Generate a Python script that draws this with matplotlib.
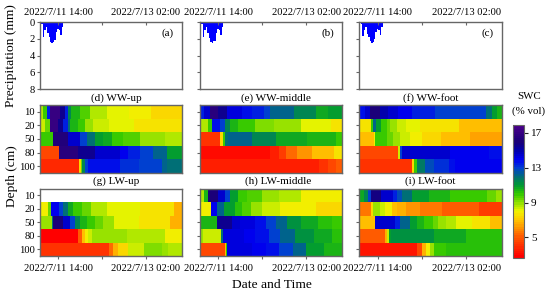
import numpy as np
import matplotlib
matplotlib.use('Agg')
import matplotlib.pyplot as plt
from matplotlib.colors import LinearSegmentedColormap, Normalize
from matplotlib.cm import ScalarMappable

plt.rcParams['font.family'] = ['Liberation Serif', 'DejaVu Serif']

W, H = 550, 296
T0, T1 = -7.6, 50.6  # hours relative to 2022/7/11 14:00
depths = [10, 20, 50, 80, 100]
tick_hours = [0, 18, 36]
time_labels = ['2022/7/11 14:00', '', '2022/7/13 02:00']

# rain, same event at each position
rain_hours = [-6.6, -6.0, -5.4, -4.8, -4.2, -3.6, -3.0, -2.4, -1.8, -1.2, -0.6, 0.0, 0.6, 1.2, 1.8, 2.4]
rain_a = [0.2, 1.8, 1.0, 0.6, 1.3, 1.8, 2.4, 2.5, 2.4, 2.1, 1.2, 0.8, 1.0, 1.5, 0.6, 0.1]
rain_b = [0.2, 1.8, 0.9, 0.6, 1.3, 1.9, 2.4, 2.5, 2.3, 2.2, 1.3, 0.8, 1.0, 1.5, 0.6, 0.1]
rain_c = [0.2, 1.7, 0.9, 0.6, 1.4, 1.8, 2.3, 2.5, 2.4, 2.0, 1.2, 0.8, 1.0, 1.5, 0.6, 0.1]

# each row: hour at which a run of constant SWC ends, and its SWC
ww_up_ends = [
    [-6, -4.6, -3.2, 1, 3, 4, 5.5, 9, 13, 20, 29, 38, 50.6],
    [-5.3, -3.5, 0, 2, 4, 5, 8, 11, 14.5, 21, 31, 50.6],
    [-2, 4.2, 9, 11.7, 15, 18.6, 22, 26.8, 33.6, 43.8, 50.6],
    [0.4, 8.3, 15, 25.4, 28.8, 33.6, 39, 44.5, 50.6],
    [8.6, 9.3, 10, 11, 12.4, 25.4, 33, 42.5, 44.5, 50.6],
]
ww_up_swc = [
    [8.7, 9.8, 13.5, 17, 15.5, 13.5, 11.5, 10.4, 9.7, 8.7, 8.2, 7.8, 7.4],
    [8.3, 9.5, 17, 15.5, 13.5, 12, 10.5, 9.8, 9, 8.5, 8.2, 7.6],
    [9.8, 16.3, 14.5, 13, 12, 11, 10.6, 10, 9.6, 9, 8.6],
    [4.6, 16.5, 15.5, 14.5, 14, 13.5, 13, 12.2, 11],
    [3.9, 7.5, 9.5, 11.5, 13, 13.6, 13.3, 13, 12.3, 12],
]

ww_mid_ends = [
    [-5.6, -3.3, 0, 3.5, 9.7, 13.8, 18.6, 21.3, 30.9, 39.8, 45, 50.6],
    [-4, -2.6, 0.8, 2.9, 4.9, 8.3, 11, 15, 22.7, 33.6, 46, 50.6],
    [0.8, 1.8, 2.9, 4.2, 13.8, 23.4, 36.3, 48, 50.6],
    [21.3, 24.7, 27.5, 32.2, 38.4, 47.3, 50.6],
    [41, 45, 48, 50.6],
]
ww_mid_swc = [
    [13.5, 14.5, 16.6, 15.5, 14.2, 13.8, 13.4, 13, 12.2, 11.5, 10.8, 11],
    [8.7, 10, 13.8, 13, 11.5, 10.5, 10, 9.8, 9.2, 8.8, 8.2, 7.6],
    [4.2, 7.5, 10, 12, 12.2, 11.5, 10.8, 10.3, 10],
    [3, 3.7, 4.4, 5.4, 6, 7, 7.6],
    [3.7, 4.2, 4.7, 5.2],
]

ww_foot_ends = [
    [-5.2, -3.3, 0.8, 4.2, 8.3, 13.8, 23.4, 43.9, 46.3, 48.6, 50.6],
    [-2.9, -1.9, -0.5, 1.5, 3.6, 4.9, 7.7, 11.7, 17.2, 33, 50.6],
    [-1.5, -1, 3.6, 6.3, 9, 13.1, 18, 25.8, 37.7, 50.6],
    [8.3, 9, 9.7, 29.5, 45.2, 50.6],
    [14, 14.9, 15.8, 19.3, 22.7, 28.8, 31.6, 50.6],
]
ww_foot_swc = [
    [13.7, 14.5, 16, 15, 14.5, 14, 13.5, 13, 12, 11, 10.3],
    [7.6, 10, 12.2, 11, 10, 9.5, 9, 8.5, 8.1, 7.6, 6.8],
    [6.8, 8, 10, 9.5, 8.9, 8.5, 8, 7.5, 6.8, 6.3],
    [4.6, 8.5, 13, 14.5, 14, 13.6],
    [4.2, 7.5, 10, 11.8, 12.7, 13.2, 13.6, 13.9],
]

lw_up_ends = [
    None,  # no sensor at 10 cm
    [-4.2, -2.9, 0.4, 2.2, 4.2, 6.3, 9.7, 13.5, 19.9, 33.6, 47.7, 50.6],
    [-2.6, -1.9, 2.2, 4.9, 7, 9, 11.7, 15.2, 18.6, 23, 33, 45.9, 50.6],
    [8.3, 9.7, 11, 12.2, 14, 28.1, 43.9, 50.6],
    [20.9, 22.7, 24.5, 28.8, 35.4, 42.5, 45.2, 50.6],
]
lw_up_swc = [
    None,
    [8, 9.5, 14, 13, 12, 10.7, 10, 9.3, 8.7, 8.2, 7.7, 6.5],
    [9, 12, 16, 14.5, 13, 11.5, 10.5, 10, 9.3, 8.8, 8.2, 7.6, 6.6],
    [2.9, 5.2, 7, 7.8, 8.3, 9, 8.6, 8],
    [4, 5.3, 6.5, 7.5, 8.5, 9.2, 9, 8.6],
]

lw_mid_ends = [
    [-5.6, -4.2, 0, 2.9, 4.9, 8.3, 11.7, 17.9, 24.7, 33.6, 50.6],
    [-2.9, -0.5, 2.2, 7, 9.7, 13.5, 17.9, 25.4, 40, 50.6],
    [-0.5, 5.6, 9, 15.2, 19.5, 23.6, 28.1, 34, 40.8, 46.3, 50.6],
    [-6, 1.2, 1.8, 10.4, 14.9, 20.6, 25.4, 31.3, 39, 46.3, 50.6],
    [2.6, 3.1, 3.7, 13.8, 19.5, 25, 30.5, 36, 43.2, 50.6],
]
lw_mid_swc = [
    [8.6, 10.5, 16, 14.5, 13, 11, 10, 9.6, 9, 8.6, 8],
    [8, 14, 12.3, 11, 10.2, 9.6, 9, 8.5, 8, 7.5],
    [10.5, 15.6, 14.6, 14.2, 13.8, 13, 12.2, 11.2, 10.6, 10.2, 9.8],
    [9, 8.5, 12, 14.2, 14, 13.6, 13, 12.2, 11.3, 10.6, 10.2],
    [4.6, 7, 10, 14.2, 14, 13.6, 13, 12.2, 11, 10.5],
]

lw_foot_ends = [
    [-5.5, -4, -2.6, 1.5, 6.3, 7.7, 9.7, 13.8, 20.9, 29.5, 44.5, 48, 50.6],
    [-2.9, -1.9, 0.8, 2.9, 5.9, 8, 11.7, 17.2, 26, 41, 50.6],
    [-1, 7, 9, 13.1, 15.8, 19, 22.3, 24.7, 27.7, 31.8, 38.4, 45.5, 50.6],
    [3.1, 3.8, 4.6, 5.3, 22.7, 35.7, 50.6],
    [15.8, 17.9, 19.5, 21.3, 23, 27.7, 50.6],
]
lw_foot_swc = [
    [10.8, 11.5, 13, 15.7, 14.5, 13.5, 12.8, 12, 11, 10.5, 10, 9.5, 9],
    [5.5, 7.5, 8.8, 8.3, 7.8, 7, 6.5, 6, 5.5, 5, 4.3],
    [6.8, 14.5, 13.5, 12.3, 11, 10.5, 9.9, 9.4, 9, 8.6, 8.1, 7.6, 6.9],
    [5, 6.5, 8.5, 11, 11.2, 10.8, 10.2],
    [3.3, 4.6, 6.5, 8, 9, 9.8, 10.2],
]

swc_min, swc_max = 2.7, 17.9
swc_stops = [(2.7, '#ff0000'), (5, '#ff5a00'), (7, '#ffc800'), (8, '#f0f500'), (9, '#8ce000'),
             (10, '#30c800'), (11, '#009a32'), (12, '#006e78'), (13, '#0040d0'), (14, '#0000f0'),
             (15, '#0000b0'), (16, '#180078'), (17.9, '#4a0088')]
cmap = LinearSegmentedColormap.from_list(
    'swc', [((v - swc_min) / (swc_max - swc_min), c) for v, c in swc_stops], N=60)
norm = Normalize(swc_min, swc_max)

FRAME = '#666666'
LABEL = 7.6


def add_axes(left, top, right, bottom):
    return fig.add_axes([left / W, 1 - bottom / H, (right - left) / W, (bottom - top) / H])


def style(ax):
    for s in ax.spines.values():
        s.set_color(FRAME)
        s.set_linewidth(1.0)
    ax.tick_params(length=2, width=0.8, color=FRAME, pad=1.5, labelsize=LABEL)


def draw_rain(ax, values, letter, show_y):
    ax.bar(rain_hours, values, width=0.6, color='#0000ff', linewidth=0)
    ax.set_xlim(T0, T1)
    ax.set_ylim(8, 0)
    ax.set_yticks([0, 2, 4, 6, 8])
    ax.set_yticklabels(['0', '2', '4', '6', '8'] if show_y else [])
    ax.xaxis.tick_top()
    ax.set_xticks(tick_hours)
    ax.set_xticklabels(time_labels)
    style(ax)
    ax.tick_params(axis='x', direction='in', pad=3.5)
    ax.text(0.90, 0.835, letter, transform=ax.transAxes, ha='center', va='center', fontsize=LABEL + 0.4)


def draw_swc(ax, ends, swc, show_y, show_x):
    for i in range(5):
        if ends[i] is None:
            continue
        edges = [T0] + ends[i]
        ax.pcolormesh(edges, [i - 0.5, i + 0.5], [swc[i]], cmap=cmap, norm=norm)
    ax.set_xlim(T0, T1)
    ax.set_ylim(4.5, -0.5)
    ax.set_yticks(range(5))
    ax.set_yticklabels(depths if show_y else [])
    ax.set_xticks(tick_hours)
    ax.set_xticklabels(time_labels if show_x else [])
    style(ax)
    if show_x:
        ax.tick_params(axis='x', pad=4)
    else:
        ax.tick_params(axis='x', bottom=False)


fig = plt.figure(figsize=(W / 100, H / 100), dpi=100)

cols = [(39.5, 181.5), (199.5, 342.2), (359, 502.2)]

rains = [rain_a, rain_b, rain_c]
letters = ['(a)', '(b)', '(c)']
for j in range(3):
    ax = add_axes(cols[j][0], 22, cols[j][1], 89.3)
    draw_rain(ax, rains[j], letters[j], j == 0)

row2 = [(ww_up_ends, ww_up_swc), (ww_mid_ends, ww_mid_swc), (ww_foot_ends, ww_foot_swc)]
row3 = [(lw_up_ends, lw_up_swc), (lw_mid_ends, lw_mid_swc), (lw_foot_ends, lw_foot_swc)]
for j in range(3):
    ax = add_axes(cols[j][0], 105, cols[j][1], 173)
    draw_swc(ax, *row2[j], j == 0, False)
    ax = add_axes(cols[j][0], 188.5, cols[j][1], 256)
    draw_swc(ax, *row3[j], j == 0, True)

# panel titles sit off centre in the original
titles_top = ['(d) WW-up', '(e) WW-middle', '(f) WW-foot']
titles_low = ['(g) LW-up', '(h) LW-middle', '(i) LW-foot']
title_x_top = [116.7, 276, 431]
title_x_low = [115.7, 278, 430.5]
for j in range(3):
    fig.text(title_x_top[j] / W, 1 - 98 / H, titles_top[j], ha='center', va='center', fontsize=8)
    fig.text(title_x_low[j] / W, 1 - 181 / H, titles_low[j], ha='center', va='center', fontsize=8)

# colour bar
cax = add_axes(512.5, 125, 524, 257.5)
cb = fig.colorbar(ScalarMappable(norm=norm, cmap=cmap), cax=cax, ticks=[5, 9, 13, 17])
cb.outline.set_edgecolor(FRAME)
cb.outline.set_linewidth(0.8)
cb.ax.tick_params(length=3, width=0.8, color='#222222', pad=2, labelsize=8)

fig.text(529 / W, 1 - 97 / H, 'SWC', ha='center', va='center', fontsize=7.8)
fig.text(529 / W, 1 - 111 / H, '(% vol)', ha='center', va='center', fontsize=7.8)

fig.text(11.5 / W, 1 - 56 / H, 'Precipitation (mm)', rotation=90, ha='center', va='center', fontsize=9.7)
fig.text(11.5 / W, 1 - 176 / H, 'Depth (cm)', rotation=90, ha='center', va='center', fontsize=9.7)
fig.text(272 / W, 1 - 285 / H, 'Date and Time', ha='center', va='center', fontsize=9.7)

fig.savefig('out.png', dpi=100)
